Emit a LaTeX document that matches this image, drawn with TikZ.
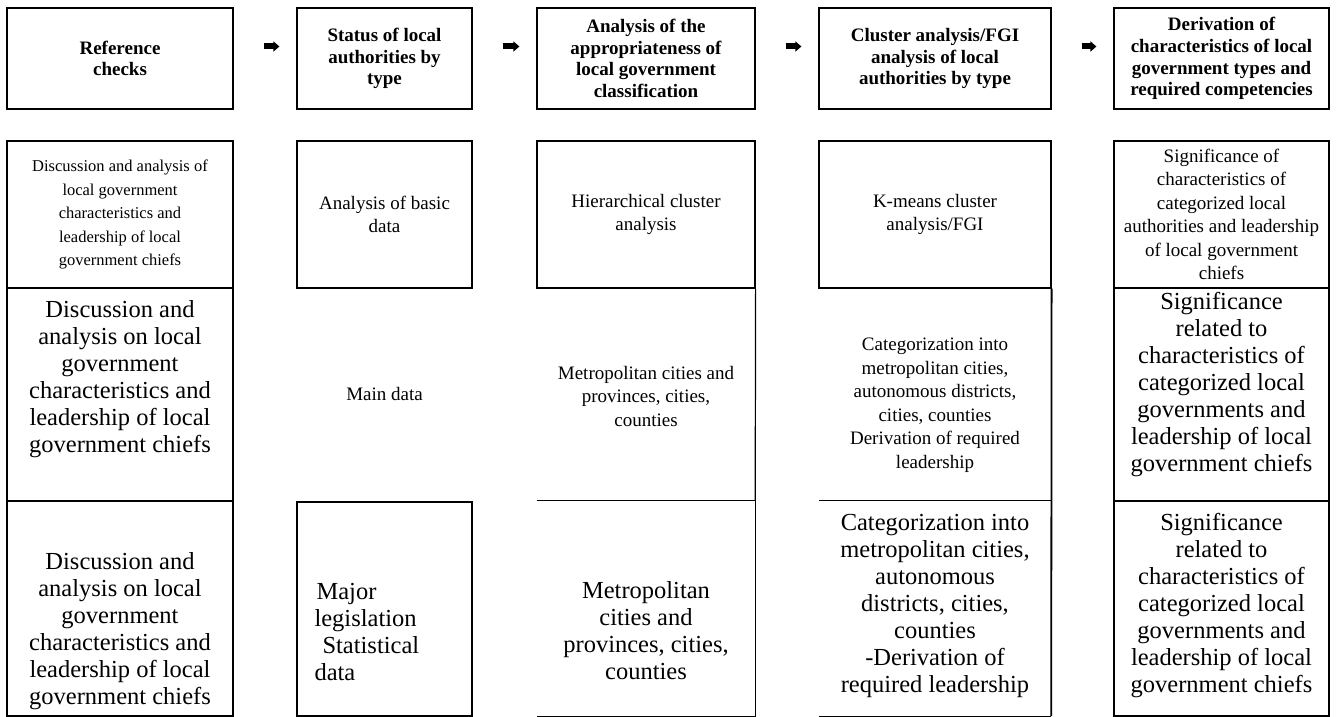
\documentclass[tikz,border=0pt]{standalone}
\usepackage{fontspec}
\setmainfont{Liberation Serif}[BoldFont={Liberation Serif Bold}]
\usetikzlibrary{arrows.meta,positioning}

\newcommand\hdrsize{\fontsize{19}{21.7}\selectfont\bfseries}
\newcommand\smallsize{\fontsize{19}{23.5}\selectfont}
\newcommand\tinysize{\fontsize{16.5}{23.5}\selectfont}
\newcommand\bigsize{\fontsize{24.5}{27}\selectfont}

\begin{document}
\begin{tikzpicture}[x=1pt,y=-1pt,
    cell/.style={inner sep=0pt},
    box/.style={cell,draw,line width=1.2pt},
    hdr/.style={align=center,font=\hdrsize},
    smalltxt/.style={align=center,font=\smallsize},
    bigtxt/.style={align=center,font=\bigsize},
    fat/.style={line width=6pt,-{Triangle[length=6pt,width=10pt]},shorten <=30pt,shorten >=17pt}]
    \useasboundingbox (0,0) rectangle (1341,717);
    % Header row
    \node[box,hdr,minimum width=226pt,minimum height=101pt] (h1) at (120,58.5) {Reference\\checks};
    \node[box,hdr,minimum width=175pt,minimum height=101pt] (h2) at (384.5,58.5) {Status of local\\authorities by\\type};
    \node[box,hdr,minimum width=218pt,minimum height=101pt] (h3) at (646,58.5) {Analysis of the\\appropriateness of\\local government\\classification};
    \node[box,hdr,minimum width=232pt,minimum height=101pt] (h4) at (935,58.5) {Cluster analysis/FGI\\analysis of local\\authorities by type};
    \node[box,hdr,minimum width=215pt,minimum height=101pt] (h5) at (1221.5,58.5) {Derivation of\\characteristics of local\\government types and\\required competencies};
    \foreach \i/\j in {h1/h2,h2/h3,h3/h4,h4/h5}
        \draw[fat] ([yshift=12pt]\i.east) -- ([yshift=12pt]\j.west);
    % Methods row
    \node[box,smalltxt,font=\tinysize,minimum width=226pt,minimum height=147pt] (a1) at (120,214.5) {Discussion and analysis of\\local government\\characteristics and\\leadership of local\\government chiefs};
    \node[box,smalltxt,minimum width=175pt,minimum height=147pt] (a2) at (384.5,214.5) {Analysis of basic\\data};
    \node[box,smalltxt,minimum width=218pt,minimum height=147pt] (a3) at (646,214.5) {Hierarchical cluster\\analysis};
    \node[box,smalltxt,minimum width=232pt,minimum height=147pt] (a4) at (935,214.5) {K-means cluster\\analysis/FGI};
    \node[box,smalltxt,minimum width=215pt,minimum height=147pt] (a5) at (1221.5,214.5) {Significance of\\characteristics of\\categorized local\\authorities and leadership\\of local government\\chiefs};
    % Frames of the lower rows
    \node[box,minimum width=226pt,minimum height=213pt] (b1) at (120,394.5) {};
    \node[box,minimum width=215pt,minimum height=213pt] (b5) at (1221.5,394.5) {};
    \node[box,minimum width=226pt,minimum height=215pt] (c1) at (120,608.5) {};
    \node[box,line width=2pt,minimum width=175pt,minimum height=214pt] (c2) at (384.5,609) {};
    \node[cell,minimum width=218pt,minimum height=215pt] (c3) at (646,608.5) {};
    \node[cell,minimum width=232pt,minimum height=215pt] (c4) at (935,608.5) {};
    \node[box,minimum width=215pt,minimum height=215pt] (c5) at (1221.5,608.5) {};
    \draw[line width=1.2pt] (c3.north west) -- (c3.north east) -- (c3.south east) -- (c3.south west);
    \draw[line width=1.2pt] (c4.north west) -- (c4.north east);
    \draw[line width=1.2pt] (c4.south west) -- (c4.south east);
    \draw[line width=1.2pt] (a3.south east) -- (c3.north east);
    \draw[line width=1.8pt] (a4.south east) -- (c4.south east);
    % Texts of the lower rows
    \node[bigtxt] (tb1) at (120,379) {Discussion and\\analysis on local\\government\\characteristics and\\leadership of local\\government chiefs};
    \node[smalltxt] (tb2) at (384.5,394) {Main data};
    \node[smalltxt] (tb3) at (646,396) {Metropolitan cities and\\provinces, cities,\\counties};
    \node[smalltxt] (tb4) at (935,405) {Categorization into\\metropolitan cities,\\autonomous districts,\\cities, counties\\Derivation of required\\leadership};
    \node[bigtxt] (tb5) at (1221.5,385) {Significance\\related to\\characteristics of\\categorized local\\governments and\\leadership of local\\government chiefs};
    \node[bigtxt] (tc1) at (120,631) {Discussion and\\analysis on local\\government\\characteristics and\\leadership of local\\government chiefs};
    \node[bigtxt,align=left,anchor=west] (tc2) at (311,632) {\hspace*{2pt}Major\\legislation\\\hspace*{8pt}Statistical\\data};
    \node[bigtxt] (tc3) at (646,631) {Metropolitan\\cities and\\provinces, cities,\\counties};
    \node[bigtxt] (tc4) at (935,606) {Categorization into\\metropolitan cities,\\autonomous\\districts, cities,\\counties\\-Derivation of\\required leadership};
    \node[bigtxt] (tc5) at (1221.5,606) {Significance\\related to\\characteristics of\\categorized local\\governments and\\leadership of local\\government chiefs};
\end{tikzpicture}
\end{document}
